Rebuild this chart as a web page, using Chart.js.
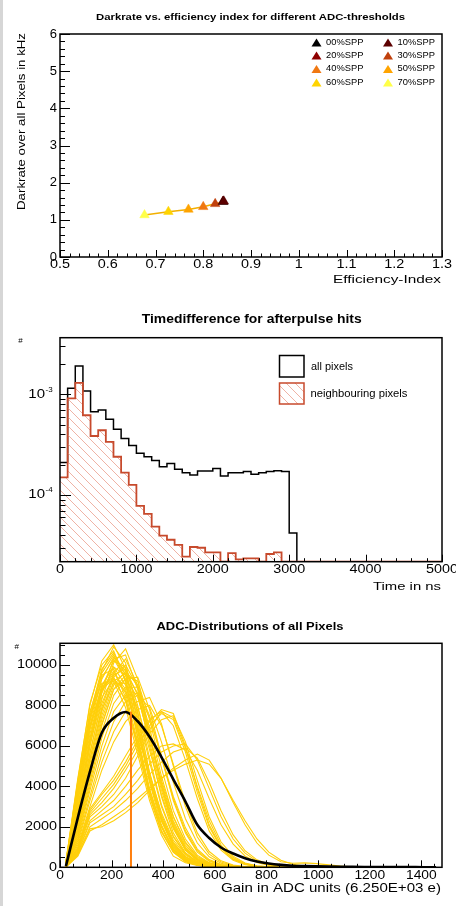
<!DOCTYPE html>
<html>
<head>
<meta charset="utf-8">
<script src="https://cdn.jsdelivr.net/npm/chart.js@4.4.1/dist/chart.umd.min.js"></script>
<style>
html, body { margin: 0; padding: 0; background: #fff; }
body { width: 456px; height: 906px; position: relative; overflow: hidden; }
#edge { position: absolute; left: 0; top: 0; width: 3px; height: 906px; background: #d6d6d6; }
canvas { position: absolute; left: 0; }
</style>
</head>
<body>
<div id="edge"></div>
<canvas id="darkrate" width="456" height="295" style="top:0px"></canvas>
<canvas id="afterpulse" width="456" height="310" style="top:295px"></canvas>
<canvas id="adc" width="456" height="301" style="top:605px"></canvas>
<script>
// ---- panel 1: darkrate vs. efficiency index ----
const thresholds = ['00%SPP', '10%SPP', '20%SPP', '30%SPP', '40%SPP', '50%SPP', '60%SPP', '70%SPP'];
const efficiencyIndex = [0.842, 0.843, 0.841, 0.825, 0.800, 0.769, 0.727, 0.677];
const darkrateKHz = [1.49, 1.50, 1.49, 1.43, 1.35, 1.28, 1.22, 1.13];
const thresholdColors = ['#000000', '#5c0000', '#8e0000', '#c0400c', '#f07812', '#ffa400', '#ffd400', '#ffff48'];

// ---- panel 2: time difference of afterpulse hits (100 ns bins) ----
const timeBinsNs = [0, 100, 200, 300, 400, 500, 600, 700, 800, 900,
  1000, 1100, 1200, 1300, 1400, 1500, 1600, 1700, 1800, 1900,
  2000, 2100, 2200, 2300, 2400, 2500, 2600, 2700, 2800, 2900,
  3000, 3100, 3200, 3300, 3400, 3500, 3600, 3700, 3800, 3900,
  4000, 4100, 4200, 4300, 4400, 4500, 4600, 4700, 4800, 4900, 5000];
const allPixels = [2.1e-4, 1.15e-3, 1.91e-3, 1.08e-3, 6.7e-4, 6.98e-4, 5.65e-4, 4.49e-4, 3.65e-4, 3.1e-4,
  2.6e-4, 2.4e-4, 2.2e-4, 1.91e-4, 2.06e-4, 1.8e-4, 1.67e-4, 1.58e-4, 1.73e-4, 1.73e-4,
  1.84e-4, 1.55e-4, 1.67e-4, 1.67e-4, 1.71e-4, 1.61e-4, 1.67e-4, 1.71e-4, 1.74e-4, 1.71e-4,
  4.2e-5, 0, 0, 0, 0, 0, 0, 0, 0, 0,
  0, 0, 0, 0, 0, 0, 0, 0, 0, 0];
const neighbourPixels = [1.5e-4, 9.1e-4, 1.3e-3, 6.2e-4, 3.86e-4, 4.4e-4, 3.38e-4, 2.4e-4, 1.67e-4, 1.26e-4,
  7.8e-5, 6.5e-5, 4.85e-5, 3.95e-5, 3.6e-5, 3.2e-5, 2.45e-5, 3.05e-5, 3.0e-5, 2.7e-5,
  2.7e-5, 0, 2.65e-5, 2.3e-5, 2.35e-5, 2.35e-5, 0, 2.6e-5, 2.7e-5, 0,
  0, 0, 0, 0, 0, 0, 0, 0, 0, 0,
  0, 0, 0, 0, 0, 0, 0, 0, 0, 0];
const timeLabels = ['all pixels', 'neighbouring pixels'];

// ---- panel 3: ADC distributions ----
const adcBins = [23, 69, 116, 162, 208, 254, 301, 347, 393, 439, 486, 532, 578, 624, 671, 717,
  763, 809, 856, 902, 948, 994, 1041, 1087, 1133, 1179, 1226, 1272, 1318, 1364, 1411, 1457];
const meanDistribution = [60, 2450, 4725, 6650, 7380, 7680, 7220, 6450, 5450, 4350, 3250, 2100, 1450, 980, 680, 450,
  290, 185, 120, 80, 60, 45, 35, 28, 22, 18, 15, 12, 10, 8, 6, 5];
const meanGain = 275;
const meanGainPeak = 7690;
// one row per pixel, values beyond the row are empty bins
const pixelDistributions = [
  [300, 4400, 8000, 10200, 11000, 9800, 7200, 4400, 2300, 1000, 400, 150, 60, 20],
  [250, 4000, 7600, 9800, 10600, 9500, 7000, 4200, 2100, 900, 350, 130, 50, 20],
  [200, 3600, 7200, 9400, 10300, 9300, 6900, 4300, 2300, 1100, 450, 170, 70, 25],
  [180, 3300, 6800, 9000, 9900, 9000, 6800, 4300, 2400, 1150, 500, 200, 80, 30, 10],
  [150, 3000, 6400, 8700, 9600, 8800, 6700, 4400, 2500, 1200, 520, 210, 85, 30, 10],
  [220, 3800, 7000, 8900, 9400, 8200, 5900, 3600, 1800, 800, 320, 120, 40, 15],
  [120, 2700, 6000, 8400, 9300, 8700, 6800, 4600, 2700, 1350, 600, 240, 90, 35, 12],
  [260, 4200, 7500, 9100, 9200, 7900, 5600, 3300, 1600, 550, 220, 90, 35, 12],
  [200, 3700, 7300, 9600, 10500, 9200, 6500, 3900, 2000, 850, 330, 120, 45, 15],
  [160, 3200, 6600, 8800, 9700, 8600, 6200, 3800, 2000, 900, 360, 140, 50, 18],
  [240, 4100, 7700, 9500, 9800, 8400, 5900, 3500, 1750, 750, 290, 110, 40, 12],
  [280, 4300, 8100, 10000, 10700, 9200, 6400, 3700, 1800, 750, 280, 100, 35, 10],
  [170, 3400, 7000, 9300, 10400, 9700, 7400, 4700, 2600, 1250, 520, 200, 75, 25],
  [140, 2900, 6300, 8900, 10200, 9900, 8000, 5400, 3100, 1550, 680, 270, 100, 35],
  [210, 3900, 7400, 9700, 10900, 10100, 7600, 4600, 2400, 1050, 420, 150, 55, 18],
  [130, 2800, 6200, 8600, 9900, 9500, 7700, 5200, 3000, 1500, 650, 260, 95, 32],
  [190, 3500, 6900, 8800, 9300, 8300, 6100, 3800, 2000, 900, 360, 130, 45, 15],
  [100, 2400, 5600, 8300, 10100, 10800, 9300, 6600, 4000, 2000, 850, 330, 120, 45, 15],
  [90, 2200, 5300, 7900, 9600, 10300, 9000, 6600, 4100, 2200, 1000, 400, 150, 55, 20],
  [110, 2500, 5700, 8100, 9500, 9800, 8500, 6200, 3800, 2000, 900, 360, 130, 50, 18],
  [80, 2000, 4900, 7500, 9200, 9600, 8600, 6500, 4200, 2300, 1100, 450, 170, 60, 20],
  [70, 1800, 4600, 7100, 8800, 9300, 8400, 6400, 4300, 2500, 1250, 540, 210, 75, 25],
  [100, 2300, 5400, 7800, 9100, 9100, 7900, 5800, 3600, 1900, 850, 340, 120, 45, 15],
  [90, 2100, 5100, 7700, 9400, 10000, 8900, 6500, 4000, 2100, 950, 380, 140, 50, 18],
  [120, 2600, 6000, 8700, 10300, 10500, 8800, 6000, 3500, 1700, 720, 280, 100, 35, 12],
  [75, 1900, 4700, 7300, 9000, 9700, 9000, 6900, 4500, 2500, 1200, 500, 190, 65, 22],
  [60, 1600, 4200, 6700, 8500, 9300, 9400, 7800, 5500, 3300, 1700, 750, 300, 110, 40, 15],
  [50, 1500, 4000, 6400, 8100, 8900, 8900, 7500, 5400, 3400, 1800, 820, 340, 130, 45, 15],
  [55, 1400, 3800, 6000, 7700, 8500, 8600, 7400, 5500, 3500, 1950, 900, 380, 140, 50, 18],
  [60, 1700, 4400, 7000, 8800, 9500, 9200, 7300, 4900, 2800, 1400, 600, 230, 85, 30],
  [45, 1300, 3500, 5600, 7200, 8200, 8500, 7900, 6200, 4200, 2400, 1200, 520, 200, 70, 22],
  [40, 1200, 3300, 5200, 6700, 7700, 8200, 8400, 7100, 5000, 3000, 1500, 650, 260, 90, 30, 10],
  [40, 1100, 3000, 4800, 6200, 7200, 7800, 8000, 7000, 5100, 3200, 1700, 780, 320, 110, 35, 12],
  [30, 900, 2700, 3400, 4100, 5000, 6100, 7000, 7600, 7300, 5700, 3700, 2000, 950, 400, 150, 50, 15],
  [25, 800, 2500, 3000, 3600, 4400, 5500, 6600, 7300, 7500, 6200, 4300, 2500, 1250, 550, 210, 75, 25],
  [30, 850, 2600, 3200, 3900, 4800, 5800, 6800, 7700, 7400, 5900, 4000, 2300, 1100, 480, 180, 60, 20],
  [35, 1000, 2900, 3700, 4500, 5500, 6500, 7300, 7700, 7000, 5300, 3400, 1800, 850, 350, 130, 45, 15],
  [30, 950, 2800, 3600, 4300, 5200, 6300, 7200, 7800, 7600, 6000, 3900, 2100, 1000, 420, 160, 55, 18],
  [20, 700, 2200, 2600, 3000, 3600, 4300, 5100, 5700, 6000, 6100, 5300, 3900, 2500, 1400, 700, 300, 120, 45, 15],
  [20, 650, 2000, 2400, 2800, 3300, 3900, 4600, 5200, 5700, 5900, 5400, 4200, 2800, 1600, 820, 370, 150, 55, 20],
  [20, 750, 2300, 2800, 3300, 4000, 4800, 5500, 6000, 6100, 5800, 4800, 3400, 2100, 1150, 560, 240, 95, 35, 12],
  [15, 600, 1900, 2000, 2300, 2700, 3200, 3800, 4400, 4900, 5300, 5600, 5300, 4400, 3200, 2100, 1200, 600, 270, 200, 220, 180, 120, 60, 20],
  [15, 550, 1800, 2100, 2500, 2900, 3400, 3900, 4400, 4800, 5100, 5300, 5100, 4400, 3300, 2300, 1400, 750, 350, 150, 60, 20]
];

const FONT = '"Liberation Sans", Arial, Helvetica, sans-serif';

// draw text, optionally squeezed/stretched to a given width
function txt(ctx, s, x, y, size, o) {
  o = o || {};
  ctx.save();
  ctx.font = (o.bold ? 'bold ' : '') + size + 'px ' + FONT;
  ctx.fillStyle = o.color || '#000';
  ctx.textAlign = o.align || 'left';
  ctx.textBaseline = o.base || 'alphabetic';
  ctx.translate(x, y);
  if (o.rot) ctx.rotate(-Math.PI / 2);
  let sx = o.sx || 1;
  if (o.w) sx = o.w / ctx.measureText(s).width;
  ctx.scale(sx, 1);
  ctx.fillText(s, 0, 0);
  ctx.restore();
}

function steps(min, max, step) {
  const out = [];
  const first = Math.ceil(min / step - 1e-9);
  const last = Math.floor(max / step + 1e-9);
  for (let i = first; i <= last; i++) out.push(i * step);
  return out;
}

// ROOT-like frame: ticks pointing inwards, labels drawn by hand
const rootAxes = {
  id: 'rootAxes',
  afterDatasetsDraw(chart, args, o) {
    const ctx = chart.ctx, a = chart.chartArea;
    const xs = chart.scales.x, ys = chart.scales.y;
    const xMajor = steps(xs.min, xs.max, o.xMajor);
    const yMajor = o.yLog ? [] : steps(ys.min, ys.max, o.yMajor);
    ctx.save();
    ctx.strokeStyle = '#000';
    ctx.lineWidth = 1;
    ctx.beginPath();
    const xt = (v, len) => {
      const p = Math.round(xs.getPixelForValue(v)) + 0.5;
      ctx.moveTo(p, a.bottom); ctx.lineTo(p, a.bottom - len);
    };
    const yt = (v, len) => {
      const p = Math.round(ys.getPixelForValue(v)) + 0.5;
      ctx.moveTo(a.left, p); ctx.lineTo(a.left + len, p);
    };
    steps(xs.min, xs.max, o.xMinor).forEach(v => xt(v, o.xTick[1]));
    xMajor.forEach(v => xt(v, o.xTick[0]));
    if (o.yLog) {
      for (let n = -6; n <= -2; n++) {
        for (let k = 1; k <= 9; k++) {
          const v = k * Math.pow(10, n);
          if (v >= ys.min && v <= ys.max) yt(v, k === 1 ? o.yTick[0] : o.yTick[1]);
        }
      }
    } else {
      steps(ys.min, ys.max, o.yMinor).forEach(v => yt(v, o.yTick[1]));
      yMajor.forEach(v => yt(v, o.yTick[0]));
    }
    ctx.stroke();
    ctx.lineWidth = 1.5;
    ctx.strokeRect(a.left, a.top, a.right - a.left, a.bottom - a.top);
    ctx.restore();

    xMajor.forEach(v => txt(ctx, o.xFmt(v), xs.getPixelForValue(v), a.bottom + o.xLab.dy,
      o.xLab.size, { align: 'center', base: 'middle', sx: o.xLab.sx }));
    if (o.yLog) {
      o.yLogLabels.forEach(n => {
        const p = ys.getPixelForValue(Math.pow(10, n));
        txt(ctx, '10', a.left - 15, p, o.yLab.size, { align: 'right', base: 'middle', sx: o.yLab.sx });
        txt(ctx, '-' + Math.abs(n), a.left - 14.5, p - 5, 8, { base: 'middle' });
      });
    } else {
      yMajor.forEach(v => txt(ctx, o.yFmt(v), a.left - o.yLab.dx, ys.getPixelForValue(v),
        o.yLab.size, { align: 'right', base: 'middle', sx: o.yLab.sx }));
    }
    if (o.extras) o.extras(ctx, chart);
  }
};

function fixedScales(yWidth, xHeight) {
  return {
    x: {
      type: 'linear', grid: { display: false }, border: { display: false }, ticks: { display: false },
      afterFit(s) { s.height = xHeight; s.paddingLeft = 0; s.paddingRight = 0; }
    },
    y: {
      type: 'linear', grid: { display: false }, border: { display: false }, ticks: { display: false },
      afterFit(s) { s.width = yWidth; s.paddingTop = 0; s.paddingBottom = 0; }
    }
  };
}

function triangle(ctx, x, y, hw, h, color) {
  ctx.beginPath();
  ctx.moveTo(x, y - h / 2);
  ctx.lineTo(x + hw, y + h / 2);
  ctx.lineTo(x - hw, y + h / 2);
  ctx.closePath();
  ctx.fillStyle = color;
  ctx.fill();
}

// ---------------- chart 1 ----------------
{
  const sc = fixedScales(60, 30);
  Object.assign(sc.x, { min: 0.5, max: 1.3 });
  Object.assign(sc.y, { min: 0, max: 6 });
  const datasets = [{
    data: efficiencyIndex.map((e, i) => ({ x: e, y: darkrateKHz[i] })),
    showLine: true, borderColor: '#f2b000', borderWidth: 1.5, pointRadius: 0, order: 20
  }];
  thresholds.forEach((name, i) => datasets.push({
    label: name,
    data: [{ x: efficiencyIndex[i], y: darkrateKHz[i] }],
    pointStyle: 'triangle', pointRadius: 5.5, pointBorderWidth: 0.5,
    backgroundColor: thresholdColors[i], borderColor: thresholdColors[i],
    order: Math.abs(i - 1)
  }));
  new Chart(document.getElementById('darkrate'), {
    type: 'scatter',
    data: { datasets },
    options: {
      responsive: false, animation: false, events: [],
      layout: { padding: { left: 0, right: 14, top: 34, bottom: 8 } },
      scales: sc,
      plugins: {
        legend: { display: false }, tooltip: { enabled: false },
        rootAxes: {
          xMajor: 0.1, yMajor: 1, xMinor: 0.02, yMinor: 0.2, xTick: [7, 3.5], yTick: [10, 5],
          xFmt: v => String(Math.round(v * 10) / 10), yFmt: v => String(v),
          xLab: { size: 12, sx: 1.2, dy: 8 }, yLab: { size: 13, sx: 1, dx: 3 },
          extras(ctx) {
            txt(ctx, 'Darkrate vs. efficiency index for different ADC-thresholds', 250.5, 19.5, 9.5, { bold: true, align: 'center', w: 309 });
            txt(ctx, 'Darkrate over all Pixels in kHz', 22, 121.5, 11.5, { align: 'center', base: 'middle', rot: true, w: 177 });
            txt(ctx, 'Efficiency-Index', 441, 283, 11.5, { align: 'right', w: 108 });
            const rows = [42.5, 55.5, 69, 82.5];
            thresholds.forEach((name, i) => {
              const col = i % 2, row = Math.floor(i / 2);
              const tx = col ? 388 : 316.5;
              triangle(ctx, tx, rows[row], 5, 8, thresholdColors[i]);
              txt(ctx, name, tx + 9.5, rows[row], 8.5, { base: 'middle', sx: 1.1 });
            });
          }
        }
      }
    },
    plugins: [rootAxes]
  });
}

// ---------------- chart 2 ----------------
{
  const yMin = 2.18e-5, yMax = 3.65e-3;
  const c = document.getElementById('afterpulse');
  const tile = document.createElement('canvas');
  tile.width = 9; tile.height = 9;
  const g = tile.getContext('2d');
  g.strokeStyle = '#efb3a5'; g.lineWidth = 1;
  g.beginPath();
  g.moveTo(-1, -1); g.lineTo(10, 10);
  g.moveTo(-1, 8); g.lineTo(1, 10);
  g.moveTo(8, -1); g.lineTo(10, 1);
  g.stroke();
  const hatch = c.getContext('2d').createPattern(tile, 'repeat');

  const toSteps = vals => timeBinsNs.map((x, i) => {
    const v = i < vals.length ? vals[i] : vals[vals.length - 1];
    return { x, y: v > 0 ? v : yMin };
  });
  const sc = fixedScales(60, 30);
  Object.assign(sc.x, { min: 0, max: 5000 });
  Object.assign(sc.y, { type: 'logarithmic', min: yMin, max: yMax });
  new Chart(c, {
    type: 'scatter',
    data: {
      datasets: [
        { label: timeLabels[0], data: toSteps(allPixels), showLine: true, stepped: 'before',
          borderColor: '#000', borderWidth: 1.5, pointRadius: 0, fill: false, order: 1 },
        { label: timeLabels[1], data: toSteps(neighbourPixels), showLine: true, stepped: 'before',
          borderColor: '#c74a2c', borderWidth: 1.8, pointRadius: 0, fill: 'start', backgroundColor: hatch, order: 0 }
      ]
    },
    options: {
      responsive: false, animation: false, events: [],
      layout: { padding: { left: 0, right: 14, top: 42.7, bottom: 13.3 } },
      scales: sc,
      plugins: {
        legend: { display: false }, tooltip: { enabled: false },
        rootAxes: {
          xMajor: 1000, xMinor: 200, yLog: true, yLogLabels: [-3, -4], xTick: [7, 3.5], yTick: [11, 5.5],
          xFmt: v => String(v),
          xLab: { size: 12, sx: 1.2, dy: 8.3 }, yLab: { size: 12, sx: 1.25 },
          extras(ctx) {
            txt(ctx, 'Timedifference for afterpulse hits', 251.7, 28.3, 13, { bold: true, align: 'center', w: 220 });
            txt(ctx, '#', 20.5, 46, 8, { align: 'center', base: 'middle' });
            txt(ctx, 'Time in ns', 441, 295, 11.5, { align: 'right', w: 68 });
            ctx.save();
            ctx.lineWidth = 1.5;
            ctx.strokeStyle = '#000';
            ctx.strokeRect(279.5, 60.5, 24.5, 21.5);
            ctx.fillStyle = hatch;
            ctx.fillRect(279.5, 88, 24.5, 21);
            ctx.strokeStyle = '#c74a2c';
            ctx.strokeRect(279.5, 88, 24.5, 21);
            ctx.restore();
            txt(ctx, timeLabels[0], 311, 72, 10, { base: 'middle', w: 42 });
            txt(ctx, timeLabels[1], 310.5, 99, 10, { base: 'middle', w: 97 });
          }
        }
      }
    },
    plugins: [rootAxes]
  });
}

// ---------------- chart 3 ----------------
{
  const sc = fixedScales(60, 30);
  Object.assign(sc.x, { min: 0, max: 1480 });
  Object.assign(sc.y, { min: 0, max: 11073 });
  const datasets = [];
  pixelDistributions.forEach(row => datasets.push({
    data: adcBins.map((x, i) => ({ x, y: i < row.length ? row[i] : 0 })),
    showLine: true, borderColor: '#ffcf0a', borderWidth: 1.1, pointRadius: 0, order: 3
  }));
  datasets.push({
    data: adcBins.map((x, i) => ({ x, y: meanDistribution[i] })),
    showLine: true, borderColor: '#000', borderWidth: 2.6, pointRadius: 0,
    cubicInterpolationMode: 'monotone', order: 2
  });
  datasets.push({
    data: [{ x: meanGain, y: 0 }, { x: meanGain, y: meanGainPeak }],
    showLine: true, borderColor: '#ff7f0e', borderWidth: 2, pointRadius: 0, order: 1
  });
  new Chart(document.getElementById('adc'), {
    type: 'scatter',
    data: { datasets },
    options: {
      responsive: false, animation: false, events: [],
      layout: { padding: { left: 0, right: 14, top: 38.3, bottom: 8.7 } },
      scales: sc,
      plugins: {
        legend: { display: false }, tooltip: { enabled: false },
        rootAxes: {
          xMajor: 200, yMajor: 2000, xMinor: 50, yMinor: 500, xTick: [7, 3.5], yTick: [10, 5],
          xFmt: v => String(v), yFmt: v => String(v),
          xLab: { size: 12, sx: 1.15, dy: 8.7 }, yLab: { size: 12, sx: 1.2, dx: 3 },
          extras(ctx) {
            txt(ctx, 'ADC-Distributions of all Pixels', 250, 25, 11.5, { bold: true, align: 'center', w: 187 });
            txt(ctx, '#', 16.7, 41.5, 8, { align: 'center', base: 'middle' });
            txt(ctx, 'Gain in ADC units (6.250E+03 e)', 441, 286.7, 12, { align: 'right', w: 220 });
          }
        }
      }
    },
    plugins: [rootAxes]
  });
}
</script>
</body>
</html>
